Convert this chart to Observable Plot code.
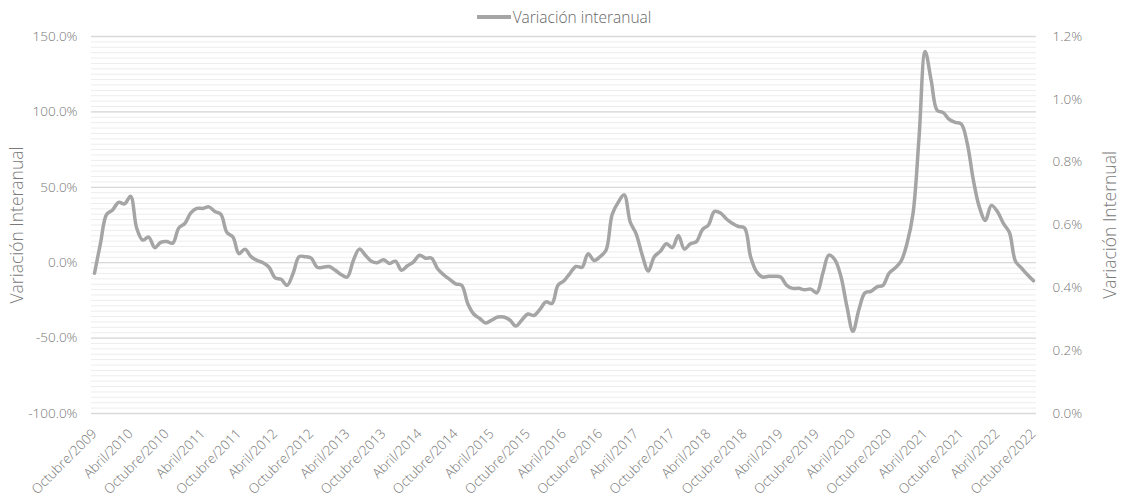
<!DOCTYPE html>
<html>
<head>
<meta charset="utf-8">
<script src="https://cdn.jsdelivr.net/npm/d3@7"></script>
<script src="https://cdn.jsdelivr.net/npm/@observablehq/plot@0.6"></script>
<style>
  body { margin: 0; background: #fff; font-family: "Open Sans", "Noto Sans", sans-serif; }
  #legend { height: 24px; box-sizing: border-box; padding: 10px 0 0 6px; display: flex;
            align-items: center; justify-content: center;
            font-size: 15.5px; line-height: 14px; color: #666; font-weight: 300; }
  #legend svg { margin-right: 2px; }
  #chart svg { display: block; }
</style>
</head>
<body>
<div id="legend"><svg width="34" height="6"><line x1="0" y1="3" x2="34" y2="3" stroke="#a5a5a5" stroke-width="4"/></svg><span>Variación interanual</span></div>
<div id="chart"></div>
<script>
// Monthly year-on-year change (%), Octubre/2009 → Octubre/2022
const values = [
  -7, 13, 32, 35, 40, 39, 44, 23, 15, 17, 10, 13.5,
  14, 13, 23, 26, 33, 36, 36, 37, 34, 32, 20, 17,
  6, 9, 4, 1.5, 0, -3, -10, -11, -15, -7, 4, 4,
  3, -3, -3, -2.5, -5, -8, -9.5, 1.5, 9, 5, 1, 0,
  2, -0.5, 1, -5, -2, 0.5, 5, 3, 3, -4, -8, -11,
  -14, -15, -27, -34, -37, -40, -38, -36, -36, -38, -42, -38,
  -34, -35, -31, -26, -27, -15, -12, -7, -2.5, -3, 6, 1.5,
  4, 8.5, 32, 40, 45, 27, 19, 5, -5.5, 4, 7.5, 12.5,
  10, 18, 9, 12.5, 14, 22, 25, 34, 33, 29, 26, 24,
  23, 4, -6, -9.5, -9, -9, -9.5, -15, -17, -17, -18, -17.5,
  -20, -7, 5, 2, -9, -29, -45.5, -31, -20, -19, -16, -15,
  -7, -3.5, 1, 13, 33, 84, 140, 121, 101, 99.5, 95, 93,
  92, 79, 55, 37, 28, 38, 34, 26, 20, 1, -3.5, -8,
  -12
];

// Category labels shown every six months
const xTickLabels = [
  "Octubre/2009", "Abril/2010", "Octubre/2010", "Abril/2011", "Octubre/2011",
  "Abril/2012", "Octubre/2012", "Abril/2013", "Octubre/2013", "Abril/2014",
  "Octubre/2014", "Abril/2015", "Octubre/2015", "Abril/2016", "Octubre/2016",
  "Abril/2017", "Octubre/2017", "Abril/2018", "Octubre/2018", "Abril/2019",
  "Octubre/2019", "Abril/2020", "Octubre/2020", "Abril/2021", "Octubre/2021",
  "Abril/2022", "Octubre/2022"
];

// Primary axis ticks (%) and secondary axis ticks (%)
const leftTicks = [-100, -50, 0, 50, 100, 150];
const rightTicks = [0, 0.2, 0.4, 0.6, 0.8, 1.0, 1.2];

const yMin = -100, yMax = 150, rMax = 1.2;
const toLeft = r => yMin + r * (yMax - yMin) / rMax;
const minorTicks = d3.range(yMin, yMax + 0.001, 50 / 14);

const data = values.map((v, i) => ({i, v}));
const font = "'Open Sans', 'Noto Sans', sans-serif";

const chart = Plot.plot({
  width: 1122,
  height: 474,
  marginLeft: 91,
  marginRight: 86,
  marginTop: 12,
  marginBottom: 85,
  style: {fontFamily: font, fontSize: "13.5px", color: "#767676", background: "#fff", fontWeight: 300},
  x: {domain: [-0.5, values.length - 0.5], axis: null},
  y: {domain: [yMin, yMax], axis: null},
  marks: [
    Plot.ruleY(minorTicks, {stroke: "#ededed", strokeWidth: 1}),
    Plot.ruleY(leftTicks, {stroke: "#d9d9d9", strokeWidth: 1.3}),
    Plot.axisY({anchor: "left", ticks: leftTicks, tickSize: 0, tickPadding: 14,
                tickFormat: d => d.toFixed(1) + "%", label: null}),
    Plot.axisY({anchor: "right", ticks: rightTicks.map(toLeft), tickSize: 0, tickPadding: 16,
                tickFormat: d => ((d - yMin) * rMax / (yMax - yMin)).toFixed(1) + "%", label: null}),
    Plot.axisX({ticks: d3.range(0, values.length, 6), tickFormat: d => xTickLabels[d / 6],
                tickRotate: -45, tickSize: 0, tickPadding: 18, label: null}),
    Plot.line(data, {x: "i", y: "v", stroke: "#a5a5a5", strokeWidth: 3.5, curve: "catmull-rom"}),
    Plot.text(["Variación Interanual"], {frameAnchor: "left", dx: -74, rotate: -90,
                textAnchor: "middle", fontSize: 17.5, fill: "#7a7a7a"}),
    Plot.text(["Variación Internual"], {frameAnchor: "right", dx: 74, rotate: -90,
                textAnchor: "middle", fontSize: 17.5, fill: "#7a7a7a"})
  ]
});
document.getElementById("chart").appendChild(chart);
</script>
</body>
</html>
